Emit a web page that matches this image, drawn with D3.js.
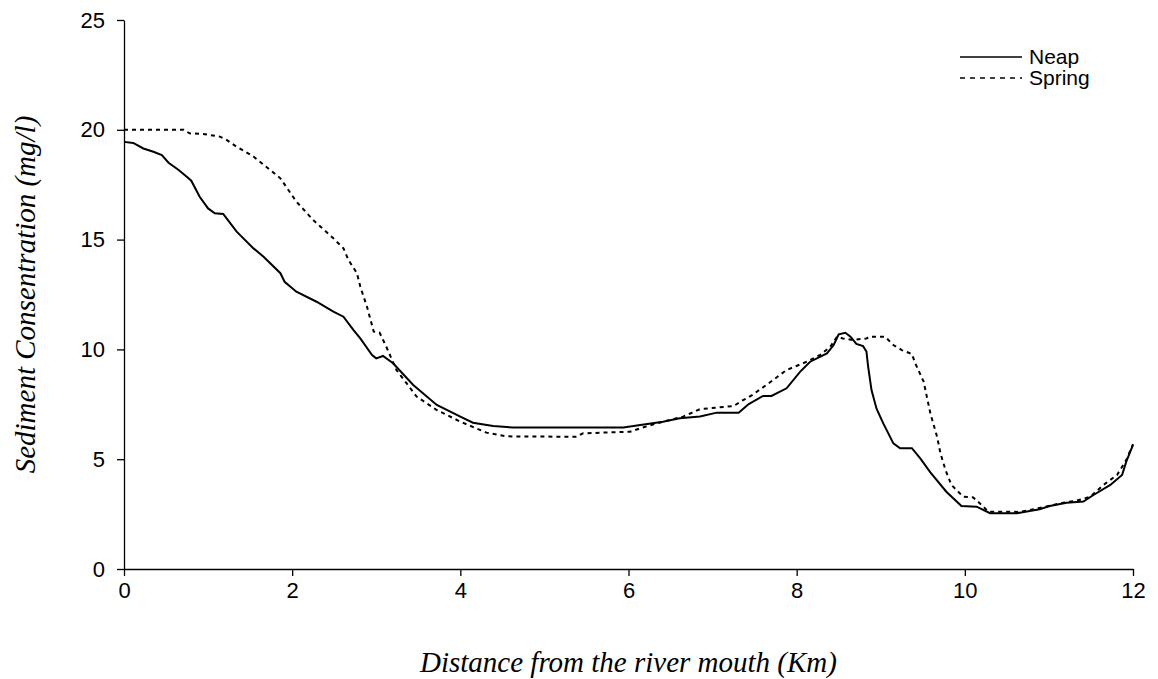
<!DOCTYPE html>
<html>
<head>
<meta charset="utf-8">
<script src="https://cdn.jsdelivr.net/npm/d3@7"></script>
<style>
  html, body { margin: 0; padding: 0; background: #fff; }
  svg { display: block; }
</style>
</head>
<body>
<svg id="chart" width="1158" height="679"></svg>
<script>
// Distance from the river mouth (km) and sediment concentration (mg/l)
const neapDistance = [0, 0.11, 0.23, 0.35, 0.45, 0.53, 0.65, 0.75, 0.80, 0.90, 1.00, 1.08, 1.18, 1.22, 1.34, 1.54, 1.66, 1.86, 1.91, 2.05, 2.29, 2.49, 2.61, 2.73, 2.81, 2.95, 3.00, 3.08, 3.20, 3.44, 3.72, 4.00, 4.15, 4.39, 4.63, 5.94, 6.10, 6.41, 6.61, 6.85, 7.05, 7.31, 7.43, 7.60, 7.70, 7.88, 8.04, 8.16, 8.36, 8.44, 8.50, 8.58, 8.64, 8.71, 8.79, 8.83, 8.85, 8.89, 8.95, 9.03, 9.15, 9.23, 9.37, 9.47, 9.59, 9.78, 9.96, 10.14, 10.30, 10.62, 10.89, 11.01, 11.21, 11.41, 11.53, 11.73, 11.87, 11.92, 12.00];
const neapConc = [19.45, 19.4, 19.15, 19.0, 18.85, 18.5, 18.17, 17.85, 17.68, 16.95, 16.42, 16.2, 16.17, 15.97, 15.36, 14.6, 14.22, 13.47, 13.08, 12.63, 12.17, 11.72, 11.49, 10.88, 10.5, 9.74, 9.59, 9.7, 9.37, 8.38, 7.47, 6.94, 6.66, 6.51, 6.44, 6.44, 6.53, 6.71, 6.86, 6.94, 7.12, 7.12, 7.51, 7.88, 7.88, 8.23, 8.98, 9.44, 9.82, 10.2, 10.69, 10.76, 10.58, 10.25, 10.15, 9.9, 9.21, 8.15, 7.3, 6.63, 5.72, 5.5, 5.5, 5.04, 4.4, 3.52, 2.87, 2.84, 2.54, 2.54, 2.72, 2.87, 3.02, 3.07, 3.37, 3.83, 4.28, 4.89, 5.65];

const springDistance = [0, 0.71, 0.78, 0.94, 1.14, 1.22, 1.34, 1.54, 1.74, 1.86, 2.01, 2.05, 2.25, 2.49, 2.61, 2.67, 2.77, 2.81, 2.89, 2.97, 3.04, 3.12, 3.24, 3.36, 3.48, 3.72, 4.00, 4.31, 4.55, 5.38, 5.46, 6.02, 6.14, 6.41, 6.65, 6.85, 7.25, 7.35, 7.47, 7.64, 7.88, 8.12, 8.28, 8.40, 8.48, 8.55, 8.67, 8.83, 8.87, 9.05, 9.15, 9.25, 9.37, 9.41, 9.51, 9.59, 9.67, 9.71, 9.77, 9.84, 9.98, 10.10, 10.20, 10.28, 10.66, 10.93, 11.17, 11.32, 11.49, 11.65, 11.81, 11.92, 12.00];
const springConc = [20.0, 20.0, 19.84, 19.81, 19.69, 19.54, 19.23, 18.78, 18.17, 17.79, 16.95, 16.73, 15.89, 15.06, 14.6, 14.07, 13.47, 12.86, 11.94, 10.81, 10.76, 10.12, 9.06, 8.46, 7.85, 7.24, 6.71, 6.21, 6.04, 6.02, 6.18, 6.25, 6.41, 6.71, 6.94, 7.28, 7.42, 7.66, 7.92, 8.38, 9.06, 9.44, 9.75, 10.12, 10.58, 10.5, 10.43, 10.5, 10.58, 10.58, 10.2, 9.97, 9.79, 9.37, 8.53, 7.09, 6.02, 5.27, 4.51, 3.83, 3.29, 3.26, 2.91, 2.61, 2.60, 2.81, 3.02, 3.10, 3.29, 3.83, 4.28, 4.96, 5.69];

const xTicks = [0, 2, 4, 6, 8, 10, 12];
const yTicks = [0, 5, 10, 15, 20, 25];
const seriesNames = ["Neap", "Spring"];

const svg = d3.select("#chart");

const x = d3.scaleLinear().domain([0, 12]).range([124, 1133]);
const y = d3.scaleLinear().domain([0, 25]).range([569, 20]);

const tickFont = "'Liberation Sans', Arial, sans-serif";
const titleFont = "'Liberation Serif', 'Times New Roman', serif";

// Axes
const xAxis = svg.append("g")
  .attr("transform", `translate(0,${y(0)})`)
  .call(d3.axisBottom(x).tickValues(xTicks).tickSize(7).tickPadding(6).tickSizeOuter(0));
const yAxis = svg.append("g")
  .attr("transform", `translate(${x(0)},0)`)
  .call(d3.axisLeft(y).tickValues(yTicks).tickSize(7).tickPadding(12).tickSizeOuter(0));

[xAxis, yAxis].forEach(g => {
  g.select(".domain").attr("stroke", "#000").attr("stroke-width", 1.3);
  g.selectAll(".tick line").attr("stroke", "#000").attr("stroke-width", 1.3);
  g.selectAll(".tick text")
    .attr("fill", "#000")
    .style("font-family", tickFont)
    .style("font-size", "22px");
});

// Series lines
const line = d3.line()
  .x(d => x(d[0]))
  .y(d => y(d[1]))
  .curve(d3.curveLinear);

const neapData = neapDistance.map((d, i) => [d, neapConc[i]]);
const springData = springDistance.map((d, i) => [d, springConc[i]]);

svg.append("path")
  .datum(springData)
  .attr("d", line)
  .attr("fill", "none")
  .attr("stroke", "#000")
  .attr("stroke-width", 2)
  .attr("stroke-dasharray", "4,4");

svg.append("path")
  .datum(neapData)
  .attr("d", line)
  .attr("fill", "none")
  .attr("stroke", "#000")
  .attr("stroke-width", 2);

// Legend
const legend = svg.append("g").attr("transform", "translate(960,57)");
seriesNames.forEach((name, i) => {
  const row = legend.append("g").attr("transform", `translate(0,${i * 21})`);
  row.append("line")
    .attr("x1", 0).attr("x2", 62)
    .attr("y1", 0).attr("y2", 0)
    .attr("stroke", "#000")
    .attr("stroke-width", 1.6)
    .attr("stroke-dasharray", i === 0 ? null : "5,5");
  row.append("text")
    .attr("x", 69).attr("y", 0)
    .attr("dy", "0.35em")
    .style("font-family", tickFont)
    .style("font-size", "21px")
    .text(name);
});

// Axis titles
svg.append("text")
  .attr("x", (x(0) + x(12)) / 2)
  .attr("y", 672)
  .attr("text-anchor", "middle")
  .style("font-family", titleFont)
  .style("font-style", "italic")
  .style("font-size", "29px")
  .text("Distance from the river mouth (Km)");

svg.append("text")
  .attr("transform", `translate(35,${(y(0) + y(25)) / 2}) rotate(-90)`)
  .attr("text-anchor", "middle")
  .style("font-family", titleFont)
  .style("font-style", "italic")
  .style("font-size", "29px")
  .text("Sediment Consentration (mg/l)");
</script>
</body>
</html>
